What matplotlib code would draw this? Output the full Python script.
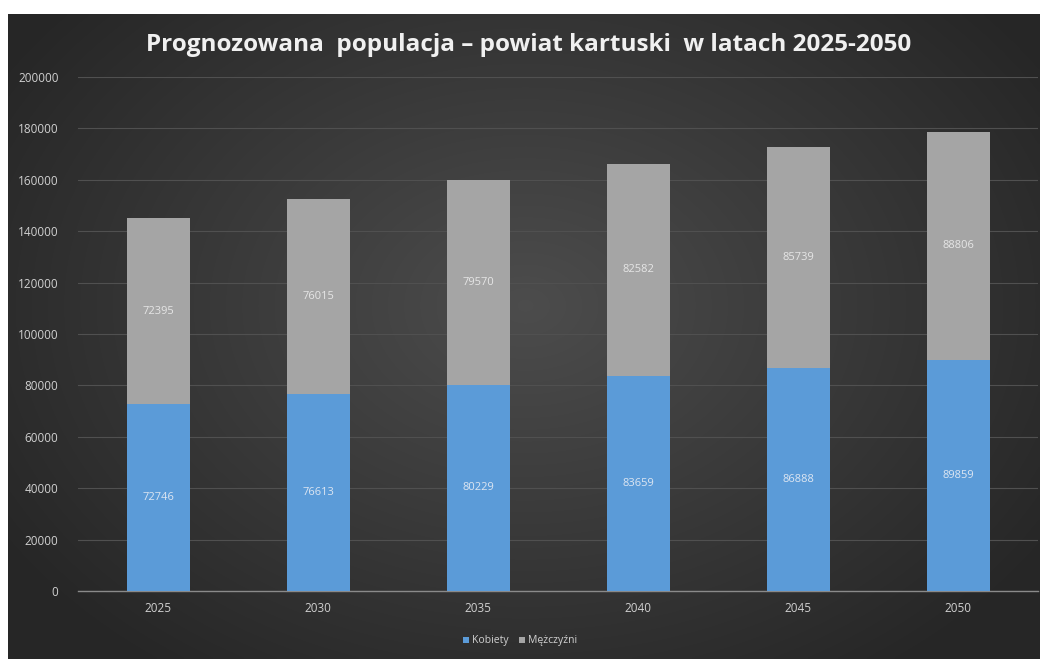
import numpy as np
import matplotlib
matplotlib.use("Agg")
import matplotlib.pyplot as plt

years = ["2025", "2030", "2035", "2040", "2045", "2050"]
kobiety = [72746, 76613, 80229, 83659, 86888, 89859]
mezczyzni = [72395, 76015, 79570, 82582, 85739, 88806]
series_names = ["Kobiety", "Mężczyźni"]
title = "Prognozowana  populacja – powiat kartuski  w latach 2025-2050"

plt.rcParams['font.family'] = ['Open Sans', 'DejaVu Sans']

W, H = 1040, 659
fig = plt.figure(figsize=(W/100, H/100), dpi=100, facecolor='white')

# dark background with radial gradient
bx0, by0 = 8/W, 0
bw, bh = 1 - 8/W, 1 - 14/H
bg = fig.add_axes([bx0, by0, bw, bh])
ny, nx = 200, 320
yy, xx = np.mgrid[0:ny, 0:nx]
cx, cy = nx*0.5, ny*0.45
r = np.sqrt(((xx-cx)/(nx*0.6))**2 + ((yy-cy)/(ny*0.7))**2)
val = 0.30 - 0.15*np.clip(r, 0, 1)
img = np.dstack([val, val, val])
bg.imshow(img, aspect='auto', extent=[0, 1, 0, 1], interpolation='bilinear')
bg.set_axis_off()

ax = fig.add_axes([78/W, 1-591/H, (1038-78)/W, (591-77)/H])
ax.set_facecolor('none')
x = np.arange(len(years))
width = 63/160
blue = '#5b9bd8'
gray = '#a5a5a5'
b1 = ax.bar(x, kobiety, width, color=blue, label=series_names[0], zorder=3)
b2 = ax.bar(x, mezczyzni, width, bottom=kobiety, color=gray, label=series_names[1], zorder=3)

for i in range(len(years)):
    ax.text(x[i], kobiety[i]/2, str(kobiety[i]), ha='center', va='center',
            color='#dde6f2', fontsize=8, zorder=4)
    ax.text(x[i], kobiety[i] + mezczyzni[i]/2, str(mezczyzni[i]), ha='center', va='center',
            color='#e6e6e6', fontsize=8, zorder=4)

ax.set_xlim(-0.5, len(years)-0.5)
ax.set_ylim(0, 200000)
ax.set_yticks(np.arange(0, 200001, 20000))
ax.set_yticklabels([str(v) for v in range(0, 200001, 20000)])
ax.set_xticks(x)
ax.set_xticklabels(years)
ax.tick_params(axis='both', length=0, colors='#d0d0d0', labelsize=8.5)
ax.tick_params(axis='y', pad=14)
ax.tick_params(axis='x', pad=8)
ax.grid(axis='y', color='#505050', linewidth=0.8, zorder=0)
for s in ['top', 'right', 'left']:
    ax.spines[s].set_visible(False)
ax.spines['bottom'].set_color('#8a8a8a')
ax.spines['bottom'].set_linewidth(1.0)

fig.text(0.508, 1-45/H, title, ha='center', va='center', color='#f0f0f0',
         fontsize=17.5, fontweight='bold')

leg = fig.legend(handles=[b1, b2], labels=series_names, loc='center',
                 bbox_to_anchor=(0.5, 1-641/H), ncol=2, frameon=False,
                 fontsize=7.5, handlelength=0.6, handleheight=0.6, handletextpad=0.3,
                 columnspacing=1.0)
for t in leg.get_texts():
    t.set_color('#d0d0d0')

fig.savefig('out.png', dpi=100, facecolor='white')
